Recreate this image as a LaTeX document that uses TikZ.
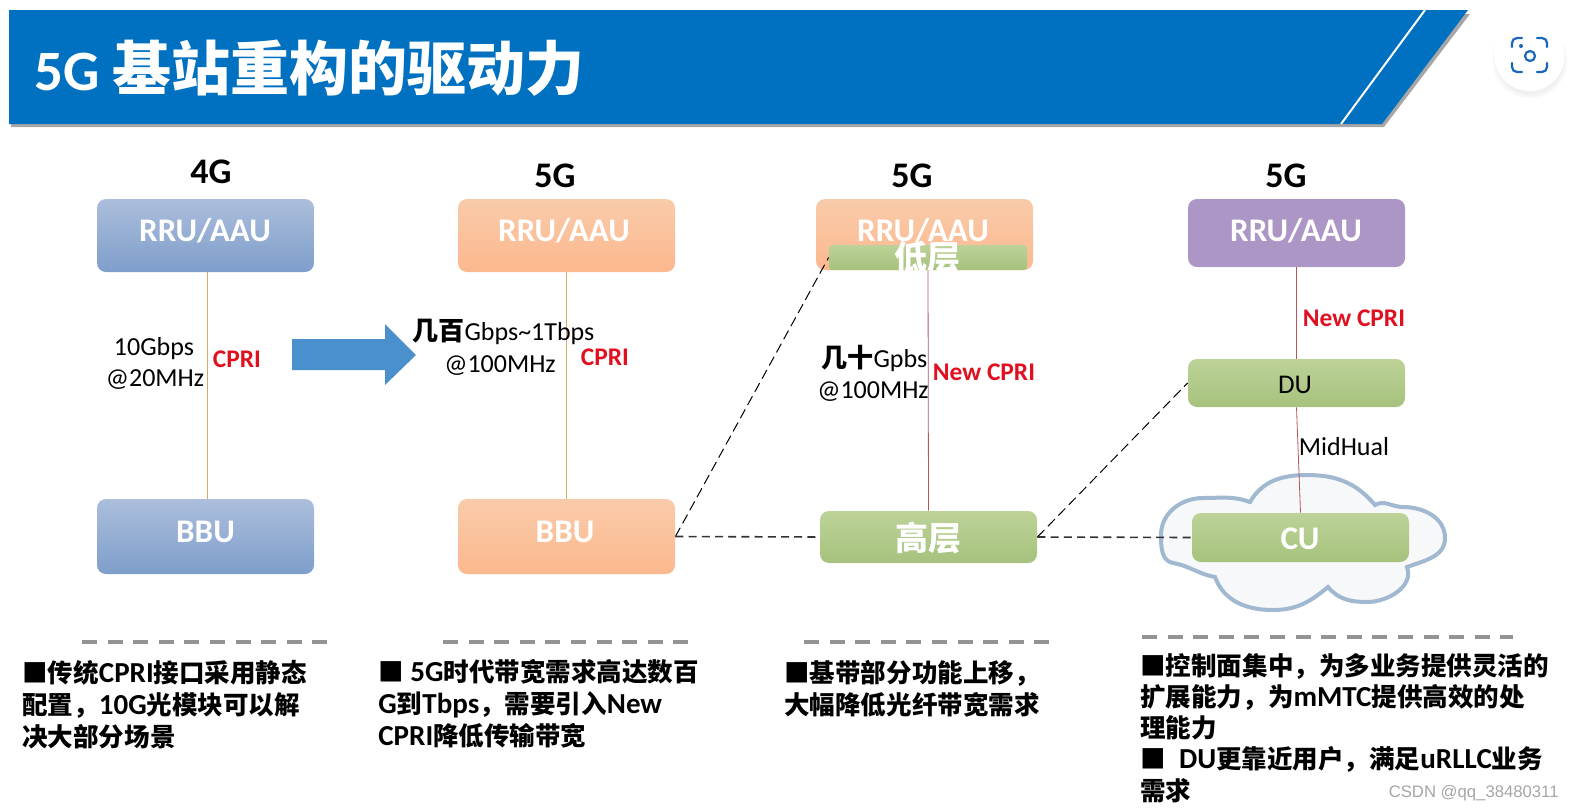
\documentclass[tikz,border=0pt]{standalone}
\usepackage{fontspec}
\setmainfont{Carlito}
\newfontfamily\cjk{Noto Sans CJK SC}[Scale=0.88]
\newfontfamily\wmfont{Liberation Sans}
\newcommand{\zh}[1]{{\cjk #1}}
\usetikzlibrary{shadows}
\definecolor{hdrblue}{HTML}{0070C0}
\definecolor{arrowblue}{HTML}{4A90CC}
\definecolor{wirered}{HTML}{B5565C}
\definecolor{wiretan}{HTML}{D9A66C}
\definecolor{cuered}{HTML}{E01020}
\definecolor{lensblue}{HTML}{1A66BD}
\definecolor{cloudedge}{HTML}{A0B8D0}
\definecolor{cloudfill}{HTML}{F7F8FA}
\definecolor{bluetop}{HTML}{ACBEDC}
\definecolor{bluebot}{HTML}{7E9ECB}
\definecolor{orangetop}{HTML}{F9CBAA}
\definecolor{orangebot}{HTML}{FCB88E}
\definecolor{greentop}{HTML}{BDD298}
\definecolor{greenbot}{HTML}{A6C27D}
\definecolor{purplefill}{HTML}{AC96C6}
\tikzset{
  box/.style={rounded corners=4.5pt, minimum width=108.5pt, inner sep=0pt},
  bluebox/.style={box, top color=bluetop, bottom color=bluebot},
  orangebox/.style={box, top color=orangetop, bottom color=orangebot},
  purplebox/.style={box, fill=purplefill},
  greenbox/.style={box, top color=greentop, bottom color=greenbot},
  boxlbl/.style={text=white, font=\fontsize{16.5}{18}\selectfont\bfseries},
  cnlbl/.style={text=white, inner sep=0pt, font=\fontsize{18.75}{20}\selectfont\bfseries},
  genlbl/.style={font=\fontsize{18}{20}\selectfont\bfseries},
  ratelbl/.style={font=\fontsize{13}{15}\selectfont},
  cuelbl/.style={text=cuered, font=\fontsize{12.7}{15}\selectfont\bfseries},
  bodylbl/.style={anchor=north west, inner sep=0pt, align=left, font=\fontsize{14.5}{16}\selectfont\bfseries},
  rule/.style={draw=gray!85, line width=1.6pt, dash pattern=on 7.5pt off 5.3pt},
  link/.style={draw=black!80, line width=0.8pt, dash pattern=on 4pt off 2.6pt},
  slant/.style={draw=black, line width=0.5pt, dash pattern=on 5pt off 2.5pt},
  lens/.style={draw=lensblue, line width=1.1pt, line cap=round, rounded corners=2.5pt},
}

\begin{document}
\begin{tikzpicture}[x=0.5pt,y=-0.5pt]
  \useasboundingbox (0,0) rectangle (1574,810);

  % title band
  \fill[black!35] (11,14) -- (1470,14) -- (1384,127) -- (11,127) -- cycle;
  \fill[hdrblue] (9,10) -- (1468,10) -- (1382,124) -- (9,124) -- cycle;
  \draw[white,line width=1pt] (1425,10) -- (1341,124);
  \node[anchor=west,text=white,inner sep=0pt,font=\fontsize{28.5}{30}\selectfont\bfseries] (title) at (34,68) {5G \zh{\fontsize{33.5}{34}\selectfont 基站重构的驱动力}};

  % lens button
  \fill[white,circular drop shadow={opacity=0.12,shadow xshift=0pt,shadow yshift=-2pt}] (1529.5,56) circle (35);
  \draw[lens] (1512,47) -- (1512,38) -- (1522,38);
  \draw[lens] (1537,38) -- (1547,38) -- (1547,47);
  \draw[lens] (1512,63) -- (1512,72) -- (1522,72);
  \draw[lens] (1537,72) -- (1547,72) -- (1547,63);
  \draw[lensblue,line width=1.1pt] (1530,56) circle (5);
  \fill[lensblue] (1521,46) circle (2);

  % generation heads
  \node[genlbl] (genA) at (211,172) {4G};
  \node[genlbl] (genB) at (555,176) {5G};
  \node[genlbl] (genC) at (912,176) {5G};
  \node[genlbl] (genD) at (1286,176) {5G};

  % cloud behind CU
  \draw[draw=cloudedge,line width=2pt,fill=cloudfill]
    (1161,535) to[out=90,in=180] (1203,498) to[out=0,in=160] (1250,502)
    to[out=60,in=180] (1307,475) to[out=0,in=130] (1375,505)
    to[out=30,in=180] (1403,507) to[out=0,in=90] (1445,538)
    to[out=-90,in=20] (1407,567) to[out=-70,in=0] (1367,602)
    to[out=180,in=-50] (1328,587) to[out=-140,in=0] (1273,610)
    to[out=180,in=-70] (1215,577) to[out=170,in=-10] (1173,563)
    to[out=170,in=-90] cycle;

  % boxes
  \node[bluebox,minimum height=36.5pt] (rruA) at (205.5,235.5) {};
  \node[bluebox,minimum height=37.5pt] (bbuA) at (205.5,536.5) {};
  \node[orangebox,minimum height=36.5pt] (rruB) at (566.5,235.5) {};
  \node[orangebox,minimum height=37.5pt] (bbuB) at (566.5,536.5) {};
  \node[orangebox,minimum height=35.5pt] (rruC) at (924.5,234.5) {};
  \node[greenbox,minimum width=99pt,minimum height=12.5pt,rounded corners=1.5pt] (lowC) at (928,257.5) {};
  \node[greenbox,minimum height=26pt] (highC) at (928.5,537) {};
  \node[purplebox,minimum height=34pt] (rruD) at (1296.5,233) {};
  \node[greenbox,minimum height=24pt] (duD) at (1296.5,383) {};
  \node[greenbox,minimum height=24.5pt] (cuD) at (1300.5,537.5) {};

  % box labels
  \node[boxlbl] (rruAtxt) at (205,231) {RRU/AAU};
  \node[boxlbl] (bbuAtxt) at (205.5,532) {BBU};
  \node[boxlbl] (rruBtxt) at (564,231) {RRU/AAU};
  \node[boxlbl] (bbuBtxt) at (565,532) {BBU};
  \node[boxlbl] (rruCtxt) at (923,231) {RRU/AAU};
  \node[cnlbl] (lowCtxt) at (927,257) {\zh{低层}};
  \node[cnlbl] (highCtxt) at (928,538) {\zh{高层}};
  \node[boxlbl] (rruDtxt) at (1296,231) {RRU/AAU};
  \node[font=\fontsize{13.5}{15}\selectfont] (duDtxt) at (1295,385) {DU};
  \node[boxlbl] (cuDtxt) at (1300,539) {CU};

  % fronthaul lines
  \draw[wiretan] ([xshift=0.75pt]rruA.south) -- ([xshift=0.75pt]bbuA.north);
  \draw[wiretan] (rruB.south) -- (bbuB.north);
  \draw[wirered] (lowC.south) -- (highC.north);
  \draw[wirered] (rruD.south) -- (duD.north);
  \draw[wirered] (duD.south) -- (cuD.north);

  % dashed links
  \draw[slant] (bbuB.east) -- (lowC.west);
  \draw[link] (bbuB.east) -- (highC.west);
  \draw[slant] (highC.east) -- (duD.west);
  \draw[link] (highC.east) -- (cuD.west);

  % step arrow
  \fill[arrowblue] (292,339) -- (385,339) -- (385,324) -- (416,355) -- (385,385) -- (385,370) -- (292,370) -- cycle;

  % rates and interface names
  \node[ratelbl] (rateA) at (154,349) {10Gbps};
  \node[ratelbl] (clockA) at (155,380) {@20MHz};
  \node[cuelbl] (cpriA) at (237,359) {CPRI};
  \node[ratelbl,anchor=west,inner sep=0pt] (rateB) at (412,332) {\zh{\bfseries\fontsize{14.8}{15}\selectfont 几百}Gbps\textasciitilde 1Tbps};
  \node[ratelbl] (clockB) at (500,366) {@100MHz};
  \node[cuelbl] (cpriB) at (605,357) {CPRI};
  \node[ratelbl,anchor=west,inner sep=0pt] (rateC) at (821,358) {\zh{\bfseries\fontsize{14.8}{15}\selectfont 几十}Gpbs};
  \node[ratelbl] (clockC) at (873,392) {@100MHz};
  \node[cuelbl] (cpriC) at (984,372) {New CPRI};
  \node[cuelbl] (cpriD) at (1354,318) {New CPRI};
  \node[ratelbl] (midD) at (1344,447) {MidHual};

  % note rules
  \draw[rule] (82,642) -- (329,642);
  \draw[rule] (443,642) -- (690,642);
  \draw[rule] (804,642) -- (1052,642);
  \draw[rule] (1142,637) -- (1513,637);

  % notes
  \node[bodylbl] (noteA) at (22,660) {\zh{■传统}CPRI\zh{接口采用静态}\\\zh{配置，}10G\zh{光模块可以解}\\\zh{决大部分场景}};
  \node[bodylbl] (noteB) at (378,659) {\zh{■} 5G\zh{时代带宽需求高达数百}\\G\zh{到}Tbps\zh{，需要引入}New\\CPRI\zh{降低传输带宽}};
  \node[bodylbl] (noteC) at (784,660) {\zh{■基带部分功能上移，}\\\zh{大幅降低光纤带宽需求}};
  \node[bodylbl,font=\fontsize{14.5}{15.6}\selectfont\bfseries] (noteD) at (1140,653) {\zh{■控制面集中，为多业务提供灵活的}\\\zh{扩展能力，为}mMTC\zh{提供高效的处}\\\zh{理能力}\\\zh{■}\ \ DU\zh{更靠近用户，满足}uRLLC\zh{业务}\\\zh{需求}};

  % watermark
  \node[text=gray!70,anchor=east,inner sep=0pt,font=\wmfont\fontsize{8.35}{10}\selectfont] (mark) at (1559,793) {CSDN @qq\_38480311};
\end{tikzpicture}
\end{document}
